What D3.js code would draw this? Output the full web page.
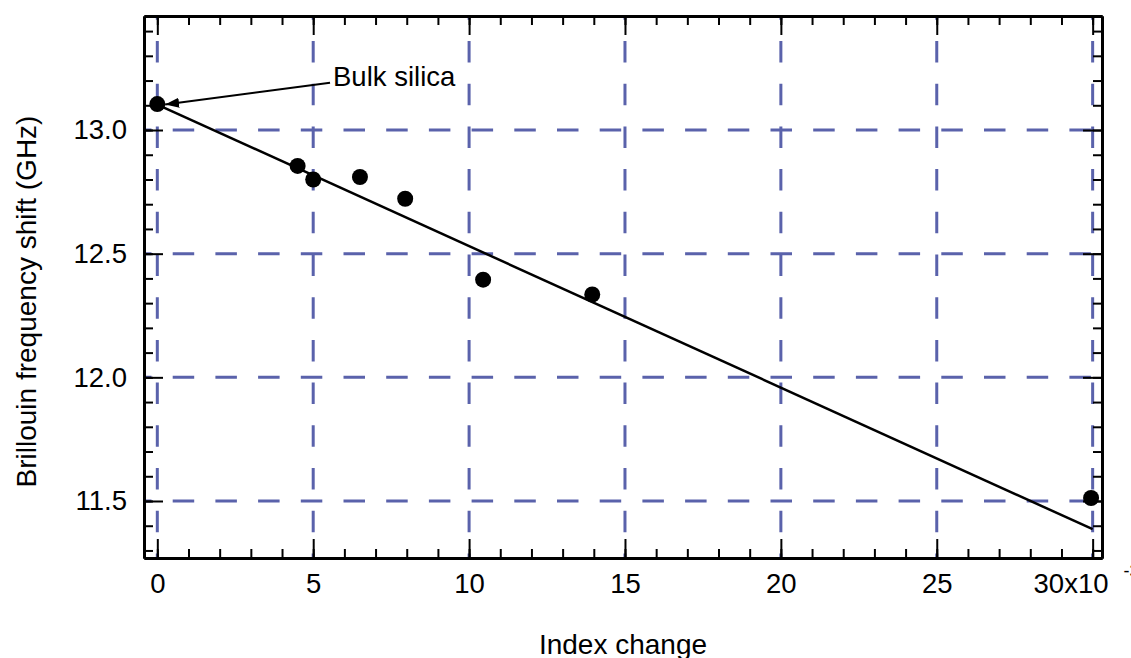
<!DOCTYPE html>
<html>
<head>
<meta charset="utf-8">
<script src="https://cdn.jsdelivr.net/npm/d3@7"></script>
<style>
body { margin: 0; background: #fff; }
text { font-family: "Liberation Sans", Arial, sans-serif; fill: #000; }
</style>
</head>
<body>
<div id="chart"></div>
<script>
// measured points, x in units of 1e-3
var index_change = [0, 4.5, 5.0, 6.5, 7.95, 10.45, 13.95, 29.95];
var brillouin_shift = [13.105, 12.855, 12.80, 12.81, 12.722, 12.395, 12.335, 11.512];

// linear fit end points
var fit_x = [0, 30];
var fit_y = [13.103, 11.386];

var x_ticks = [0, 5, 10, 15, 20, 25, 30];
var x_minor = d3.range(0, 31, 1);
var y_ticks = [11.5, 12.0, 12.5, 13.0];
var y_minor = d3.range(113, 135).map(function(d) { return d / 10; });

var annotation_label = "Bulk silica";
var annotation_from = [5.54, 13.191];
var annotation_to = [0.25, 13.103];

var margin = { top: 16, right: 29, bottom: 100, left: 144 },
    width = 1131 - margin.left - margin.right,
    height = 658 - margin.top - margin.bottom;

var gridColor = "#5a62ab";
var fontSize = "27.5px";

var svg = d3.select("#chart")
    .append("svg")
    .attr("width", 1131)
    .attr("height", 658)
    .style("display", "block");

svg.append("defs").append("marker")
    .attr("id", "arrow")
    .attr("viewBox", "0 0 14 10")
    .attr("refX", 14)
    .attr("refY", 5)
    .attr("markerWidth", 14)
    .attr("markerHeight", 10)
    .attr("markerUnits", "userSpaceOnUse")
    .attr("orient", "auto")
    .append("path")
    .attr("d", "M0,0 L14,5 L0,10 Z")
    .attr("fill", "#000");

var g = svg.append("g")
    .attr("transform", "translate(" + margin.left + "," + margin.top + ")");

var x = d3.scaleLinear()
    .domain([-0.427, 30.3])
    .range([0, width]);

var y = d3.scaleLinear()
    .domain([11.2695, 13.461])
    .range([height, 0]);

/* grid */
g.append("g")
    .selectAll("line")
    .data(x_ticks)
    .enter()
    .append("line")
    .attr("x1", function(d) { return x(d); })
    .attr("x2", function(d) { return x(d); })
    .attr("y1", 0)
    .attr("y2", height)
    .attr("stroke", gridColor)
    .attr("stroke-width", 3)
    .attr("stroke-dasharray", "21.5,21.2")
    .attr("stroke-dashoffset", 17.7);

g.append("g")
    .selectAll("line")
    .data(y_ticks)
    .enter()
    .append("line")
    .attr("x1", 0)
    .attr("x2", width)
    .attr("y1", function(d) { return y(d); })
    .attr("y2", function(d) { return y(d); })
    .attr("stroke", gridColor)
    .attr("stroke-width", 3)
    .attr("stroke-dasharray", "21.5,21.2")
    .attr("stroke-dashoffset", 14);

/* axes */
function styleAxis(sel) {
    sel.selectAll(".domain").attr("stroke", "#000").attr("stroke-width", 3);
    sel.selectAll(".tick line").attr("stroke", "#000").attr("stroke-width", 2);
    sel.selectAll(".tick text").style("font-size", fontSize).attr("fill", "#000");
}

// minor ticks
g.append("g")
    .attr("transform", "translate(0," + height + ")")
    .call(d3.axisBottom(x).tickValues(x_minor).tickFormat("").tickSize(-9).tickSizeOuter(0))
    .call(styleAxis);
g.append("g")
    .call(d3.axisTop(x).tickValues(x_minor).tickFormat("").tickSize(-9).tickSizeOuter(0))
    .call(styleAxis);
g.append("g")
    .call(d3.axisLeft(y).tickValues(y_minor).tickFormat("").tickSize(-9).tickSizeOuter(0))
    .call(styleAxis);
g.append("g")
    .attr("transform", "translate(" + width + ",0)")
    .call(d3.axisRight(y).tickValues(y_minor).tickFormat("").tickSize(-9).tickSizeOuter(0))
    .call(styleAxis);

// major ticks + labels
var xAxis = g.append("g")
    .attr("transform", "translate(0," + height + ")")
    .call(d3.axisBottom(x).tickValues(x_ticks)
        .tickFormat(function(d) { return d === 30 ? "30x10" : d; })
        .tickSize(-19).tickSizeOuter(0).tickPadding(15))
    .call(styleAxis);

// last label carries the 10^-3 multiplier
xAxis.selectAll(".tick text")
    .filter(function(d) { return d === 30; })
    .attr("text-anchor", "start")
    .attr("x", -59.6)
    .append("tspan")
    .attr("dx", 15)
    .attr("dy", -16)
    .style("font-size", "18px")
    .text("-3");

g.append("g")
    .call(d3.axisTop(x).tickValues(x_ticks).tickFormat("").tickSize(-19).tickSizeOuter(0))
    .call(styleAxis);

g.append("g")
    .call(d3.axisLeft(y).tickValues(y_ticks).tickFormat(d3.format(".1f"))
        .tickSize(-19).tickSizeOuter(0).tickPadding(17))
    .call(styleAxis);

g.append("g")
    .attr("transform", "translate(" + width + ",0)")
    .call(d3.axisRight(y).tickValues(y_ticks).tickFormat("").tickSize(-19).tickSizeOuter(0))
    .call(styleAxis);

/* fit line */
var line = d3.line()
    .x(function(d) { return x(d[0]); })
    .y(function(d) { return y(d[1]); });

g.append("path")
    .datum(d3.zip(fit_x, fit_y))
    .attr("d", line)
    .attr("fill", "none")
    .attr("stroke", "#000")
    .attr("stroke-width", 2.5);

/* points */
g.append("g")
    .selectAll("circle")
    .data(d3.zip(index_change, brillouin_shift))
    .enter()
    .append("circle")
    .attr("cx", function(d) { return x(d[0]); })
    .attr("cy", function(d) { return y(d[1]); })
    .attr("r", 8)
    .attr("fill", "#000");

/* annotation */
g.append("line")
    .attr("x1", x(annotation_from[0]))
    .attr("y1", y(annotation_from[1]))
    .attr("x2", x(annotation_to[0]))
    .attr("y2", y(annotation_to[1]))
    .attr("stroke", "#000")
    .attr("stroke-width", 2)
    .attr("marker-end", "url(#arrow)");

g.append("text")
    .attr("x", x(annotation_from[0]) + 3)
    .attr("y", y(annotation_from[1]) + 3.5)
    .style("font-size", fontSize)
    .text(annotation_label);

/* axis titles */
svg.append("text")
    .attr("x", margin.left + width / 2)
    .attr("y", 654)
    .attr("text-anchor", "middle")
    .style("font-size", "28px")
    .text("Index change");

svg.append("text")
    .attr("transform", "translate(36," + 301.5 + ") rotate(-90)")
    .attr("text-anchor", "middle")
    .style("font-size", "28px")
    .text("Brillouin frequency shift (GHz)");
</script>
</body>
</html>
